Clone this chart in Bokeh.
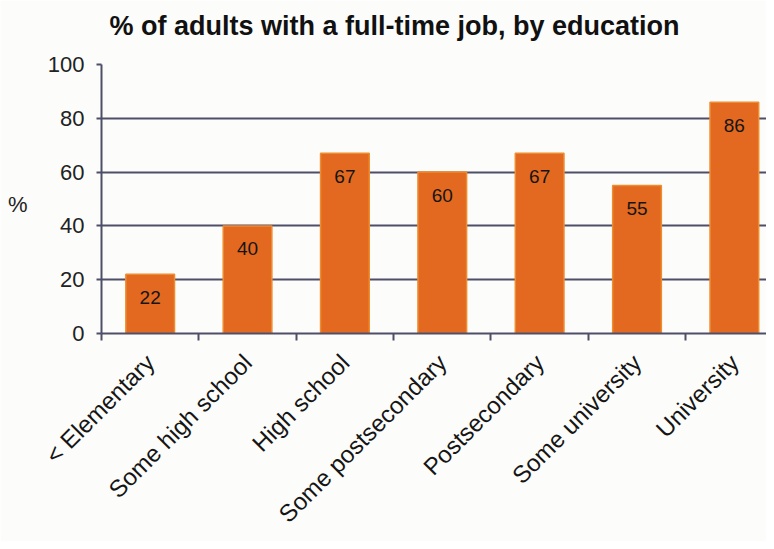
from bokeh.plotting import figure
from bokeh.models import Range1d, FixedTicker, LinearAxis, ColumnDataSource
from bokeh.core.properties import value
from bokeh.embed import file_html
from bokeh.resources import INLINE
import math

title_text = "% of adults with a full-time job, by education"
categories = ["< Elementary", "Some high school", "High school", "Some postsecondary",
              "Postsecondary", "Some university", "University"]
values = [22, 40, 67, 60, 67, 55, 86]
y_ticks = [0, 20, 40, 60, 80, 100]
y_unit_label = "%"
y_unit_pos = 48
title_pos = 3.01

xs = [i + 0.5 for i in range(len(categories))]
src = ColumnDataSource(dict(x=xs, top=values, lab=[str(v) for v in values]))

FONT = "Liberation Sans"
BG = "#FCFCFA"
GRID = "#4E4E68"

p = figure(width=766, height=541, output_backend="svg", toolbar_location=None,
           x_range=Range1d(0, 6.83), y_range=Range1d(0, 100),
           background_fill_color=BG, border_fill_color=BG, outline_line_color=None,
           min_border_left=101, min_border_right=0, min_border_top=64, min_border_bottom=208)

p.vbar(x="x", top="top", width=0.5, bottom=0, source=src,
       fill_color="#E2691F", line_color="#EE8C30", line_width=1.5)

p.text(x="x", y="top", text="lab", source=src, text_font=value(FONT),
       text_font_size="19px", text_align="center", text_baseline="middle",
       y_offset=23, text_color="#151515")

# x axis (categories) - the figure's own bottom axis
xaxis = p.below[0]
xaxis.ticker = FixedTicker(ticks=xs, minor_ticks=list(range(len(categories) + 1)))
xaxis.major_label_overrides = {x: c for x, c in zip(xs, categories)}
xaxis.major_label_orientation = math.pi / 4
xaxis.major_label_text_font = FONT
xaxis.major_label_text_font_size = "24px"
xaxis.major_label_text_color = "#151515"
xaxis.major_tick_line_color = None
xaxis.major_tick_out = 0
xaxis.major_tick_in = 0
xaxis.minor_tick_line_color = GRID
xaxis.minor_tick_line_width = 2
xaxis.minor_tick_out = 7
xaxis.minor_tick_in = 0
xaxis.axis_line_color = GRID
xaxis.axis_line_width = 2
xaxis.major_label_standoff = 18

# y axis - the figure's own left axis
yaxis = p.left[0]
yaxis.ticker = FixedTicker(ticks=y_ticks)
yaxis.major_label_text_font = FONT
yaxis.major_label_text_font_size = "22px"
yaxis.major_label_text_color = "#222222"
yaxis.axis_line_color = GRID
yaxis.axis_line_width = 2
yaxis.major_tick_line_color = GRID
yaxis.major_tick_line_width = 2
yaxis.major_tick_out = 5
yaxis.major_tick_in = 0
yaxis.minor_tick_line_color = None
yaxis.major_label_standoff = 12

p.xgrid.grid_line_color = None
p.ygrid.ticker = FixedTicker(ticks=y_ticks)
p.ygrid.grid_line_color = GRID
p.ygrid.grid_line_width = 2

# title drawn as a single-label axis above the frame
title_axis = LinearAxis(ticker=FixedTicker(ticks=[title_pos]),
                        major_label_overrides={title_pos: title_text},
                        axis_line_color=None, major_tick_line_color=None,
                        minor_tick_line_color=None, major_tick_out=0, major_tick_in=0,
                        major_label_standoff=24, major_label_text_font=FONT,
                        major_label_text_font_size="27px",
                        major_label_text_font_style="bold",
                        major_label_text_color="#111111")
p.add_layout(title_axis, "above")

# "%" unit label as an outer left axis (horizontal text)
unit_axis = LinearAxis(ticker=FixedTicker(ticks=[y_unit_pos]),
                       major_label_overrides={y_unit_pos: y_unit_label},
                       axis_line_color=None, major_tick_line_color=None,
                       minor_tick_line_color=None, major_tick_out=0, major_tick_in=0,
                       major_label_standoff=17, major_label_text_font=FONT,
                       major_label_text_font_size="22px", major_label_text_color="#222222")
p.add_layout(unit_axis, "left")

open("out.html", "w").write(file_html(p, INLINE))
